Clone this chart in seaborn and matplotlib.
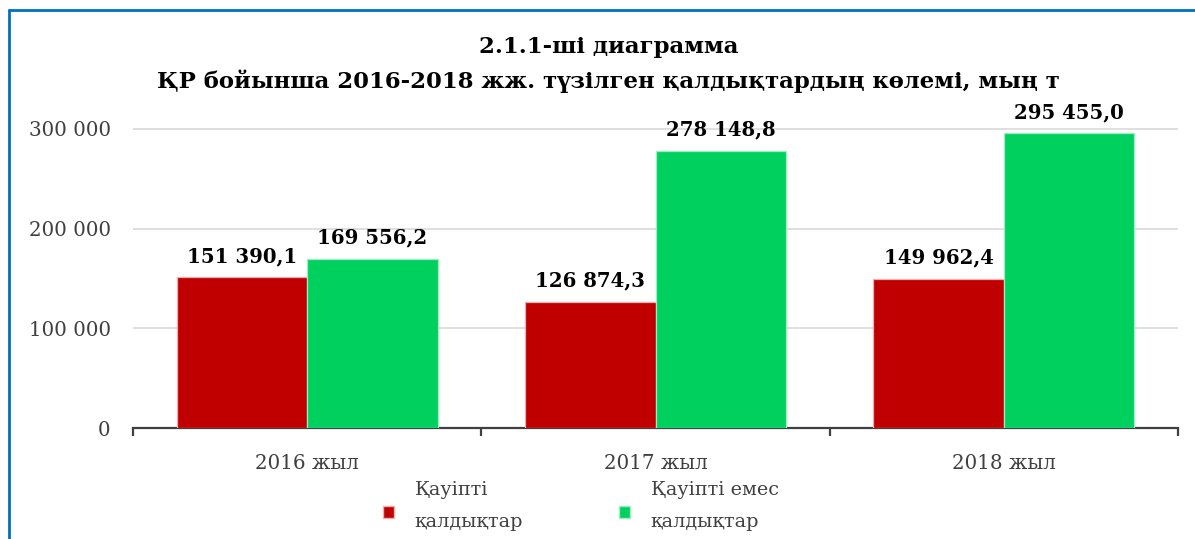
import matplotlib
matplotlib.use("Agg")
import matplotlib.pyplot as plt
from matplotlib.lines import Line2D
from matplotlib.patches import Patch
import seaborn as sns
import pandas as pd

years = ["2016 жыл", "2017 жыл", "2018 жыл"]
series_names = ["Қауіпті\nқалдықтар", "Қауіпті емес\nқалдықтар"]
hazardous = [151390.1, 126874.3, 149962.4]
non_hazardous = [169556.2, 278148.8, 295455.0]
yticks = [0, 100000, 200000, 300000]
ytick_labels = ["0", "100 000", "200 000", "300 000"]
title_lines = ["2.1.1-ші диаграмма",
               "ҚР бойынша 2016-2018 жж. түзілген қалдықтардың көлемі, мың т"]
colors = ["#C00000", "#00D05E"]
edge_colors = ["#EFAFAF", "#9CEFC2"]

df = pd.DataFrame({
    "year": years * 2,
    "series": [series_names[0]] * 3 + [series_names[1]] * 3,
    "value": hazardous + non_hazardous,
})

sns.set_theme(style="white")
plt.rcParams["font.family"] = ["DejaVu Serif", "DejaVu Sans"]

fig = plt.figure(figsize=(11.95, 5.39), dpi=100)
ax = fig.add_axes([0.1113, 0.2059, 0.8745, 0.6104])

sns.barplot(data=df, x="year", y="value", hue="series", palette=colors,
            saturation=1, width=0.75, linewidth=0.9, ax=ax,
            legend=False, zorder=3)
for i, cont in enumerate(ax.containers):
    for p in cont:
        p.set_edgecolor(edge_colors[i])

ax.set_ylim(0, 330000)
ax.set_xlim(-0.5, 2.5)
ax.set_yticks(yticks)
ax.set_yticklabels(ytick_labels, fontsize=14.3, color="#404040")
ax.yaxis.grid(True, color="#D9D9D9", linewidth=1.2, zorder=0)
ax.set_axisbelow(True)
ax.tick_params(axis="y", length=0, pad=16)
ax.tick_params(axis="x", which="major", length=0, pad=19, labelsize=14.3,
               labelcolor="#404040")
ax.set_xticks([-0.5, 0.5, 1.5, 2.5], minor=True)
ax.tick_params(axis="x", which="minor", bottom=True, length=6, width=1.6,
               color="#404040", direction="out")
ax.set_xlabel("")
ax.set_ylabel("")
for s in ["top", "right", "left"]:
    ax.spines[s].set_visible(False)
ax.spines["bottom"].set_color("#404040")
ax.spines["bottom"].set_linewidth(1.6)

for cont in ax.containers:
    ax.bar_label(cont, labels=[f"{v:,.1f}".replace(",", " ").replace(".", ",")
                               for v in cont.datavalues],
                 padding=8, fontsize=14.2, fontweight="bold", color="black",
                 clip_on=False)

fig.text(0.509, 1 - 47 / 539, title_lines[0], ha="center", va="center",
         fontsize=16.4, fontweight="bold", color="black")
fig.text(0.509, 1 - 81 / 539, title_lines[1], ha="center", va="center",
         fontsize=16.4, fontweight="bold", color="black")

handles = [Patch(facecolor=colors[0], edgecolor=edge_colors[0]),
           Patch(facecolor=colors[1], edgecolor=edge_colors[1])]
leg = fig.legend(handles, series_names, loc="center",
                 bbox_to_anchor=(0.486, 1 - 506 / 539),
                 ncol=2, frameon=False, fontsize=13.8, handlelength=0.6,
                 handleheight=0.6, columnspacing=5.0, handletextpad=1.05)
for t in leg.get_texts():
    t.set_color("#404040")
    t.set_linespacing(2.0)
for h in leg.legend_handles:
    h.set_y(h.get_y() - 4.0)

fig.add_artist(Line2D([9 / 1195, 9 / 1195], [0, 1 - 10 / 539],
                      color="#0070C0", linewidth=2, transform=fig.transFigure))
fig.add_artist(Line2D([9 / 1195, 1], [1 - 10 / 539, 1 - 10 / 539],
                      color="#0070C0", linewidth=2, transform=fig.transFigure))

fig.savefig("out.png", dpi=100)
